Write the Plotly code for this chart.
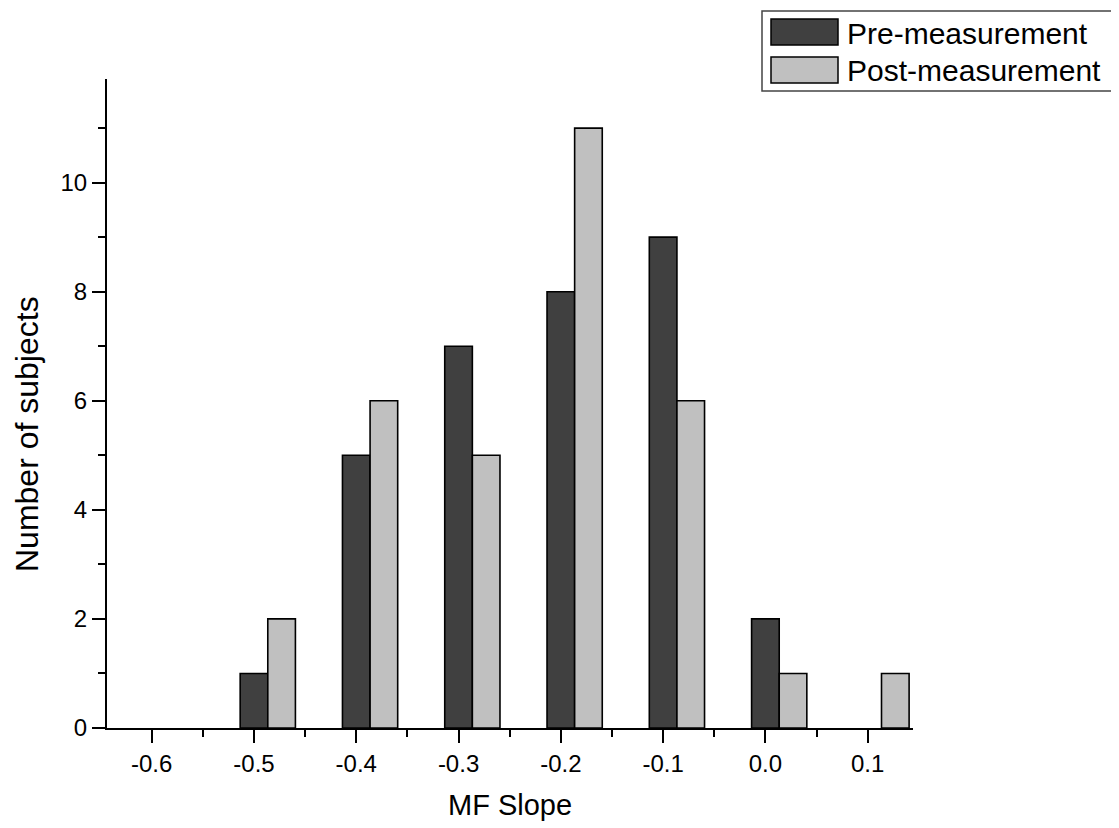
import plotly.graph_objects as go

# Data
slope_bins = [-0.6, -0.5, -0.4, -0.3, -0.2, -0.1, 0.0, 0.1]
pre_counts = [0, 1, 5, 7, 8, 9, 2, 0]
post_counts = [0, 2, 6, 5, 11, 6, 1, 1]
x_tick_vals = [-0.6, -0.5, -0.4, -0.3, -0.2, -0.1, 0.0, 0.1]
x_tick_text = ["-0.6", "-0.5", "-0.4", "-0.3", "-0.2", "-0.1", "0.0", "0.1"]
y_tick_vals = [0, 2, 4, 6, 8, 10]
series_names = ["Pre-measurement", "Post-measurement"]

FONT = "Liberation Sans, Arial, sans-serif"
DARK = "#404040"
LIGHT = "#c0c0c0"
BAR_W = 0.027

def nz(v):
    return [c if c != 0 else None for c in v]

fig = go.Figure()
fig.add_trace(go.Bar(x=slope_bins, y=nz(pre_counts), width=BAR_W, offset=-BAR_W / 2,
                     marker=dict(color=DARK, line=dict(color="black", width=1.6)),
                     name=series_names[0], showlegend=False))
fig.add_trace(go.Bar(x=slope_bins, y=nz(post_counts), width=BAR_W, offset=BAR_W / 2,
                     marker=dict(color=LIGHT, line=dict(color="black", width=1.6)),
                     name=series_names[1], showlegend=False))

# page has an 8px body margin
OFF = 8
W, H = 1119 - OFF, 828 - OFF
PLOT_L, PLOT_R, PLOT_T, PLOT_B = 107, 913, 79, 728  # absolute page pixels
L = PLOT_L - OFF
T = PLOT_T - OFF
R = OFF + W - PLOT_R
B = OFF + H - PLOT_B
PW, PH = PLOT_R - PLOT_L, PLOT_B - PLOT_T

def px(xp):
    return (xp - PLOT_L) / PW

def py(yp):
    return (PLOT_B - yp) / PH

shapes = [
    dict(type="rect", xref="paper", yref="paper", x0=px(762), x1=px(1125), y0=py(91), y1=py(11),
         line=dict(color="#444444", width=1.5), fillcolor="white", layer="above"),
    dict(type="rect", xref="paper", yref="paper", x0=px(771), x1=px(838), y0=py(45), y1=py(19),
         line=dict(color="black", width=1.5), fillcolor=DARK),
    dict(type="rect", xref="paper", yref="paper", x0=px(771), x1=px(838), y0=py(83), y1=py(57),
         line=dict(color="black", width=1.5), fillcolor=LIGHT),
]
annotations = [
    dict(text=series_names[0], xref="paper", yref="paper", x=px(845), y=py(33),
         xanchor="left", yanchor="middle", showarrow=False, font=dict(family=FONT, size=30, color="black")),
    dict(text=series_names[1], xref="paper", yref="paper", x=px(845), y=py(71),
         xanchor="left", yanchor="middle", showarrow=False, font=dict(family=FONT, size=30, color="black")),
    dict(text="MF Slope", xref="paper", yref="paper", x=px(510), y=py(805),
         xanchor="center", yanchor="middle", showarrow=False, font=dict(family=FONT, size=29, color="black")),
    dict(text="Number of subjects", xref="paper", yref="paper", x=px(27), y=py(434), textangle=-90,
         xanchor="center", yanchor="middle", showarrow=False, font=dict(family=FONT, size=32, color="black")),
]

fig.update_layout(
    width=W, height=H,
    margin=dict(l=L, r=R, t=T, b=B, autoexpand=False),
    paper_bgcolor="white", plot_bgcolor="white",
    barmode="overlay",
    font=dict(family=FONT, size=24, color="black"),
    shapes=shapes, annotations=annotations,
    xaxis=dict(range=[-0.6437, 0.1443], tickvals=x_tick_vals, ticktext=x_tick_text,
               ticks="outside", ticklen=13, tickwidth=2, tickcolor="black",
               showline=True, linecolor="black", linewidth=2, showgrid=False, zeroline=False,
               minor=dict(tick0=-0.65, dtick=0.1, ticks="outside", ticklen=7, tickwidth=2, tickcolor="black"),
               tickfont=dict(family=FONT, size=24)),
    yaxis=dict(range=[0, 11.9], tickvals=y_tick_vals,
               ticks="outside", ticklen=13, tickwidth=2, tickcolor="black",
               showline=True, linecolor="black", linewidth=2, showgrid=False, zeroline=False,
               minor=dict(tick0=1, dtick=2, ticks="outside", ticklen=7, tickwidth=2, tickcolor="black"),
               tickfont=dict(family=FONT, size=24)),
)

fig.write_html("out.html")
